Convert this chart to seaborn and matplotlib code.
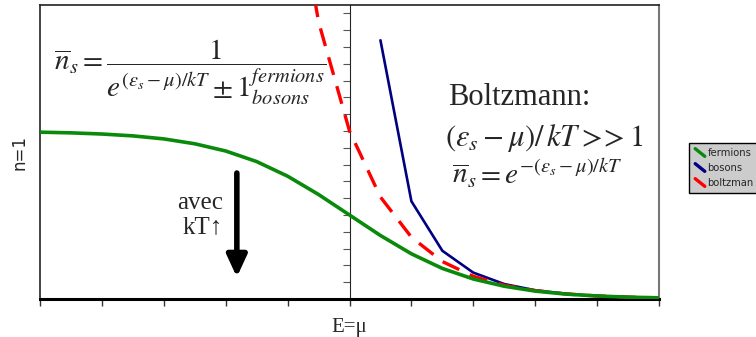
import matplotlib
matplotlib.use('Agg')
import matplotlib.pyplot as plt
import seaborn as sns
import numpy as np
import pandas as pd
from matplotlib.lines import Line2D
from matplotlib.legend_handler import HandlerBase

# energy (E - mu)/kT
x_all = [-5, -4.5, -4, -3.5, -3, -2.5, -2, -1.5, -1, -0.5, 0,
         0.5, 1, 1.5, 2, 2.5, 3, 3.5, 4, 4.5, 5]
fermions = [0.993, 0.989, 0.982, 0.971, 0.953, 0.924, 0.881, 0.818, 0.731, 0.622, 0.5,
            0.378, 0.269, 0.182, 0.119, 0.076, 0.047, 0.029, 0.018, 0.011, 0.007]

x_bos = [0.5, 1, 1.5, 2, 2.5, 3, 3.5, 4, 4.5, 5]
bosons = [1.54, 0.582, 0.287, 0.157, 0.089, 0.052, 0.031, 0.018, 0.011, 0.007]

x_bol = [-1, -0.5, 0, 0.5, 1, 1.5, 2, 2.5, 3, 3.5, 4, 4.5, 5]
boltzmann = [2.72, 1.65, 1.0, 0.607, 0.368, 0.223, 0.135, 0.082, 0.050, 0.030, 0.018, 0.011, 0.007]

sns.set_style('white')
plt.rcParams['font.family'] = ['Liberation Serif', 'DejaVu Serif']
plt.rcParams['mathtext.fontset'] = 'stix'

fig = plt.figure(figsize=(7.56, 3.37), dpi=100)
ax = fig.add_axes([40 / 756, 1 - 299 / 337, 619 / 756, 294 / 337])

df_f = pd.DataFrame({'x': x_all, 'y': fermions})
df_b = pd.DataFrame({'x': x_bos, 'y': bosons})
df_m = pd.DataFrame({'x': x_bol, 'y': boltzmann})

sns.lineplot(data=df_m, x='x', y='y', ax=ax, color='#ff0000', lw=2.4, zorder=3)
ax.lines[-1].set_dashes([5.5, 3.5])
sns.lineplot(data=df_b, x='x', y='y', ax=ax, color='#000080', lw=1.9, zorder=2)
sns.lineplot(data=df_f, x='x', y='y', ax=ax, color='#0a8a0a', lw=2.6, zorder=4)

ax.set_xlim(-5, 5)
ax.set_ylim(0, 1.75)
ax.set_xticks(np.arange(-5, 5.1, 1))
ax.set_xticklabels([])
ax.set_yticks([])
ax.tick_params(axis='x', direction='out', length=5, width=1, bottom=True, color='#333333')

for s in ['left', 'top']:
    ax.spines[s].set_color('#222222')
    ax.spines[s].set_linewidth(1.2)
ax.spines['right'].set_color('#777777')
ax.spines['right'].set_linewidth(1.5)
ax.spines['bottom'].set_color('black')
ax.spines['bottom'].set_linewidth(2.2)

# central axis at E = mu
sec = ax.secondary_yaxis(0.5)
sec.set_yticks(np.arange(0, 1.71, 0.1))
sec.set_yticklabels([])
sec.tick_params(direction='out', length=5, width=0.8, color='#555555', left=True, right=False)
sec.spines['left'].set_color('#222222')
sec.spines['left'].set_linewidth(1.0)

ax.set_xlabel('E=μ', fontsize=15, labelpad=5)
ax.set_ylabel('n=1', fontsize=12, family='DejaVu Sans', labelpad=8)

ax.text(-4.78, 1.35, r'$\overline{n}_s = \dfrac{1}{e^{\left(\varepsilon_s - \mu\right)/kT} \pm 1^{fermions}_{bosons}}$',
        fontsize=21, va='center', ha='left')
ax.text(1.6, 1.2, 'Boltzmann:', fontsize=22, va='center', ha='left')
ax.text(1.55, 0.96, r'$\left(\varepsilon_s - \mu\right)/\,kT >\!\!> 1$', fontsize=22, va='center', ha='left')
ax.text(1.65, 0.75, r'$\overline{n}_s = e^{-\left(\varepsilon_s - \mu\right)/kT}$', fontsize=21, va='center', ha='left')

ax.text(-2.04, 0.5, 'avec\nkT↑', fontsize=18, va='center', ha='right', linespacing=1.1,
        family=['Liberation Serif', 'DejaVu Sans'])
ax.annotate('', xy=(-1.82, 0.13), xytext=(-1.82, 0.75),
            arrowprops=dict(arrowstyle='-|>,head_length=1.3,head_width=0.6', lw=4, color='black',
                            shrinkA=0, shrinkB=0))


class DiagHandler(HandlerBase):
    def create_artists(self, legend, orig, xd, yd, w, h, fontsize, trans):
        ln = Line2D([-xd + 0.1 * w, -xd + 0.9 * w], [-yd + h * 1.05, -yd - h * 0.05],
                    color=orig.get_color(), lw=2.4, transform=trans)
        return [ln]


handles = [Line2D([], [], color='#0a8a0a'), Line2D([], [], color='#000080'),
           Line2D([], [], color='#ff0000')]
leg = fig.legend(handles, ['fermions', 'bosons', 'boltzman'], loc='center left',
                 bbox_to_anchor=(689 / 756, 1 - 168 / 337),
                 handler_map={Line2D: DiagHandler()}, handlelength=1.2, handletextpad=0.15,
                 borderpad=0.5, labelspacing=0.5, frameon=True, fancybox=False,
                 borderaxespad=0, prop={'family': 'DejaVu Sans', 'size': 7.2})
leg.get_frame().set_facecolor('#cccccc')
leg.get_frame().set_edgecolor('black')
leg.get_frame().set_linewidth(1.0)
leg.get_frame().set_alpha(1)

fig.savefig('out.png', dpi=100)
